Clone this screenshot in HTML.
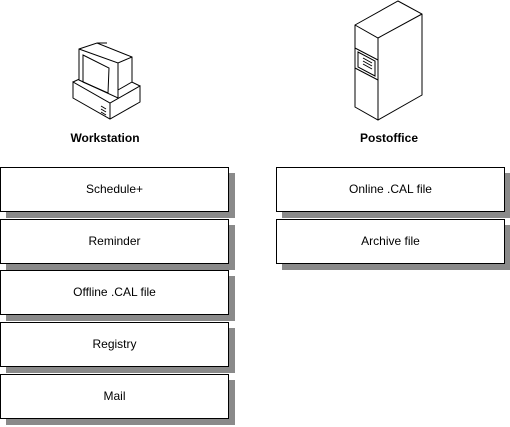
<!DOCTYPE html>
<html><head><meta charset="utf-8"><style>
body{margin:0;width:510px;height:427px;background:#fff;position:relative;overflow:hidden;font-family:"Liberation Sans",Arial,sans-serif}
.b{position:absolute;width:227px;height:43px;border:1px solid #000;background:#fff;box-shadow:6px 6px 0 #8a8a8a;font-size:12px;line-height:43px;text-align:center;color:#000}
.l{position:absolute;font-weight:bold;font-size:12px;text-align:center;width:140px}
</style></head><body>
<svg width="510" height="130" style="position:absolute;left:0;top:0" fill="none" stroke="#000" stroke-width="1">
<!-- computer base -->
<polygon points="73,82 73,98 110,119 140,102 140,86 110,103" fill="#fff"/>
<line x1="110" y1="103" x2="110" y2="119"/>
<polyline points="73,82 103,68 140,86"/>
<line x1="101" y1="106" x2="106" y2="109"/><line x1="101" y1="109" x2="106" y2="112"/><line x1="101" y1="112" x2="106" y2="115"/>
<!-- monitor -->
<polygon points="79,49 97,43 132,57 132,82 118,90 118,98 79,80" fill="#fff"/>
<polyline points="79,49 118,63 132,57"/>
<line x1="118" y1="63" x2="118" y2="98"/>
<polygon points="83,55 109,68 108,93 83,82"/>
<line x1="97" y1="43" x2="107" y2="43"/>
<!-- server -->
<polygon points="355,25 398,1 422,14 422,95 378,120 355,107" fill="#fff"/>
<polyline points="355,25 378,38 422,14"/>
<line x1="378" y1="38" x2="378" y2="120"/>
<line x1="355" y1="48" x2="378" y2="60"/><line x1="355" y1="68" x2="378" y2="80"/>
<polygon points="358,52 375,61 375,76 358,67"/>
<line x1="363" y1="58" x2="372" y2="63"/><line x1="363" y1="61" x2="372" y2="66"/><line x1="363" y1="64" x2="372" y2="69"/>
</svg>
<div class="l" style="left:35px;top:131px">Workstation</div>
<div class="l" style="left:319px;top:131px">Postoffice</div>
<div class="b" style="left:0;top:167px">Schedule+</div>
<div class="b" style="left:0;top:219px">Reminder</div>
<div class="b" style="left:0;top:270px">Offline .CAL file</div>
<div class="b" style="left:0;top:322px">Registry</div>
<div class="b" style="left:0;top:374px">Mail</div>
<div class="b" style="left:276px;top:167px">Online .CAL file</div>
<div class="b" style="left:276px;top:219px">Archive file</div>
</body></html>
